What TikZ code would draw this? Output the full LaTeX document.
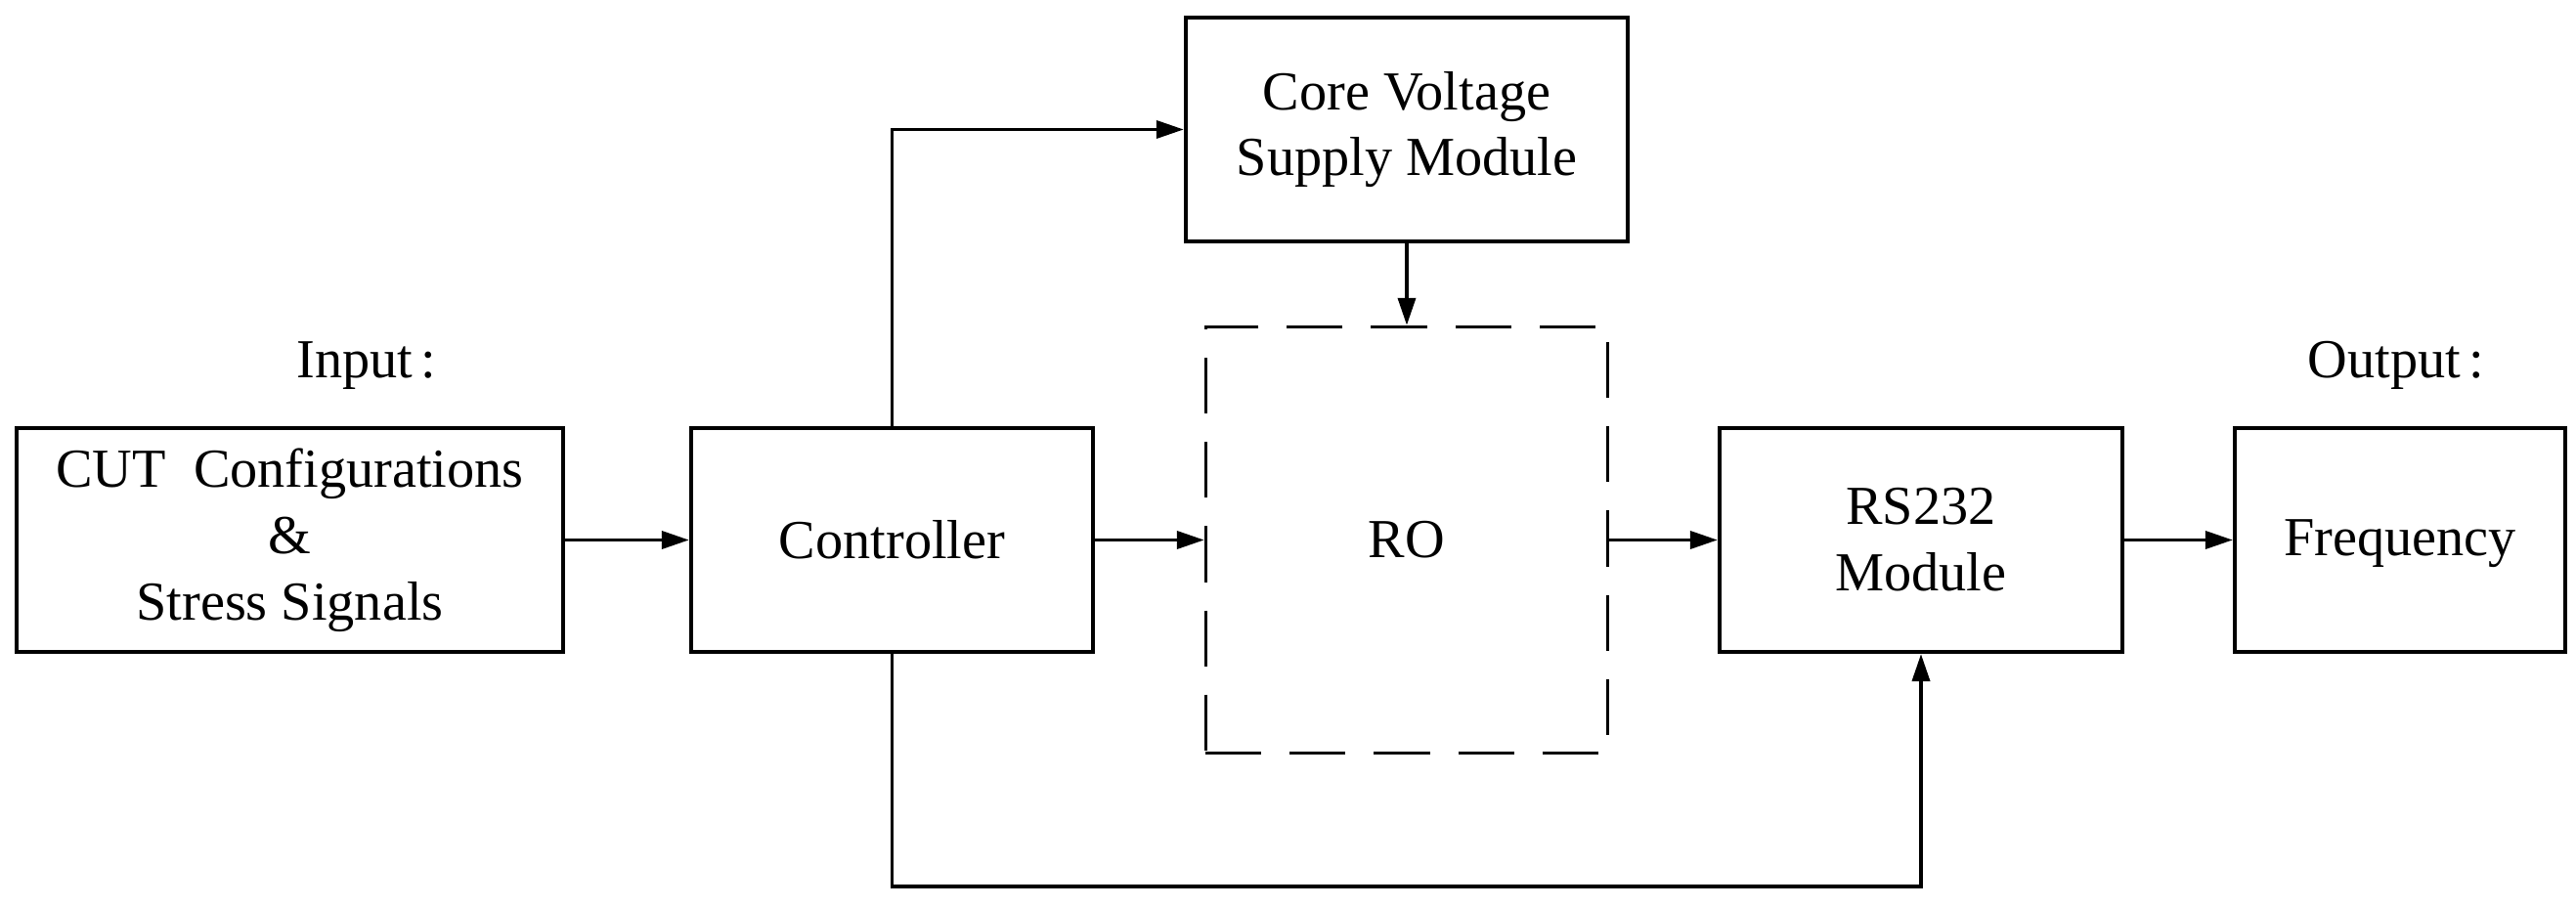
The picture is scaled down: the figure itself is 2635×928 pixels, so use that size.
\documentclass[tikz,border=0pt]{standalone}
\usepackage{fontspec}
\setmainfont{Liberation Serif}
\usetikzlibrary{arrows.meta}
\begin{document}
\begin{tikzpicture}[x=0.01cm,y=-0.01cm,
  every node/.style={font=\fontsize{16}{19.3}\selectfont},
  blk/.style={draw,line width=1.15pt,rectangle,inner sep=0pt,align=center},
  robox/.style={draw,line width=0.9pt,rectangle,inner sep=0pt,align=center,dash pattern=on 0.57cm off 0.29cm},
  lbl/.style={inner sep=0pt,anchor=base west},
  arr/.style={line width=1.05pt,-{Triangle[length=0.28cm,width=0.18cm]}}]
\useasboundingbox (0,0) rectangle (2635,928);
\node[blk,minimum width=5.59cm,minimum height=2.29cm] (cut) at (296.5,552.5) {CUT\ \ Configurations\\\&\\Stress Signals};
\node[blk,minimum width=4.11cm,minimum height=2.29cm] (ctrl) at (912.5,552.5) {Controller};
\node[blk,minimum width=4.52cm,minimum height=2.29cm] (core) at (1439,132.5) {Core Voltage\\Supply Module};
\node[robox,minimum width=4.11cm,minimum height=4.36cm] (ro) at (1439,552.5) {RO};
\node[blk,minimum width=4.12cm,minimum height=2.29cm] (rs) at (1965,552.5) {RS232\\Module};
\node[blk,minimum width=3.38cm,minimum height=2.29cm,text depth=1.5pt] (freq) at (2455,552.5) {Frequency};
\node[lbl] (inlbl) at (303,387) {Input\kern0.15em:};
\node[lbl] (outlbl) at (2360,387) {Output\kern0.15em:};
\coordinate (bot) at (1965,907);
\draw[arr] (cut.east) -- (ctrl.west);
\draw[arr] (ctrl.east) -- (ro.west);
\draw[arr] (ro.east) -- (rs.west);
\draw[arr] (rs.east) -- (freq.west);
\draw[arr] (ctrl.north) |- (core.west);
\draw[arr] (core.south) -- (ro.north);
\draw[arr] (ctrl.south) |- (bot) -- (rs.south);
\end{tikzpicture}
\end{document}
